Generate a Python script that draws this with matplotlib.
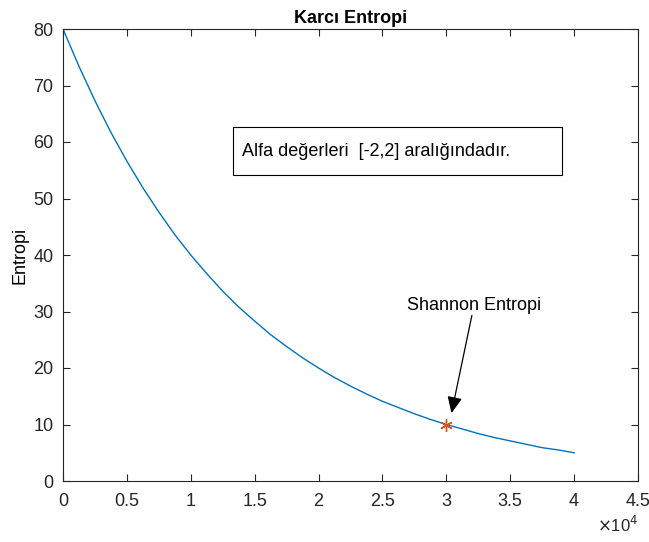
import matplotlib
matplotlib.use("Agg")
import matplotlib.pyplot as plt
from matplotlib.patches import Rectangle

plt.rcParams['font.family'] = ['Liberation Sans', 'DejaVu Sans']

# values (x in units of 1e4)
x_vals = [0, 0.125, 0.25, 0.375, 0.5, 0.625, 0.75, 0.875, 1.0, 1.125, 1.25, 1.375, 1.5, 1.625,
          1.75, 1.875, 2.0, 2.125, 2.25, 2.375, 2.5, 2.625, 2.75, 2.875, 3.0, 3.125, 3.25,
          3.375, 3.5, 3.625, 3.75, 3.875, 4.0]
entropy = [80, 73.4, 67.3, 61.7, 56.6, 51.9, 47.6, 43.6, 40, 36.7, 33.6, 30.8, 28.3, 25.9,
           23.8, 21.8, 20, 18.3, 16.8, 15.4, 14.1, 13.0, 11.9, 10.9, 10, 9.2, 8.4,
           7.7, 7.1, 6.5, 5.9, 5.5, 5]
shannon_x = 3.0
shannon_y = 10
xticks = [0, 0.5, 1, 1.5, 2, 2.5, 3, 3.5, 4, 4.5]
yticks = [0, 10, 20, 30, 40, 50, 60, 70, 80]

fig = plt.figure(figsize=(6.49, 5.42), dpi=100)
ax = fig.add_axes([63/649, 1-481/542, (638-63)/649, (481-29)/542])

ax.plot(x_vals, entropy, color='#0072BD', lw=1.0)
ax.plot([shannon_x], [shannon_y], marker=(6, 2, 0), color='#D95319', ms=9, mew=1.0, ls='none')

ax.set_xlim(0, 4.5)
ax.set_ylim(0, 80)
ax.set_xticks(xticks)
ax.set_xticklabels([f"{t:g}" for t in xticks])
ax.set_yticks(yticks)

gray = '#262626'
for s in ax.spines.values():
    s.set_color(gray)
    s.set_linewidth(0.8)
ax.tick_params(direction='in', top=True, right=True, length=5, width=0.8,
               colors=gray, labelsize=13, labelcolor=gray)
ax.tick_params(axis='x', pad=9)
ax.tick_params(axis='y', pad=7)

ax.set_title('Karcı Entropi', fontsize=13, fontweight='bold', pad=4)
ax.set_ylabel('Entropi', fontsize=13, labelpad=3)

fig.text(618/649, 1-525/542, r'$\times$10$^4$', fontsize=12, ha='center', va='center', color=gray)

ax.annotate('', xy=(3.04, 12.0), xytext=(3.2, 29.3),
            arrowprops=dict(arrowstyle='-|>,head_length=1.0,head_width=0.45', color='k', lw=0.9,
                            shrinkA=0, shrinkB=0))
ax.text(3.22, 31.1, 'Shannon Entropi', fontsize=13, ha='center', va='center')

fig.patches.append(Rectangle((233/649, 1-175/542), 329/649, 48/542, transform=fig.transFigure,
                             facecolor='white', edgecolor='k', lw=0.8))
fig.text(242/649, 1-151/542, 'Alfa değerleri  [-2,2] aralığındadır.', fontsize=13,
         ha='left', va='center')

fig.savefig('out.png', dpi=100)
